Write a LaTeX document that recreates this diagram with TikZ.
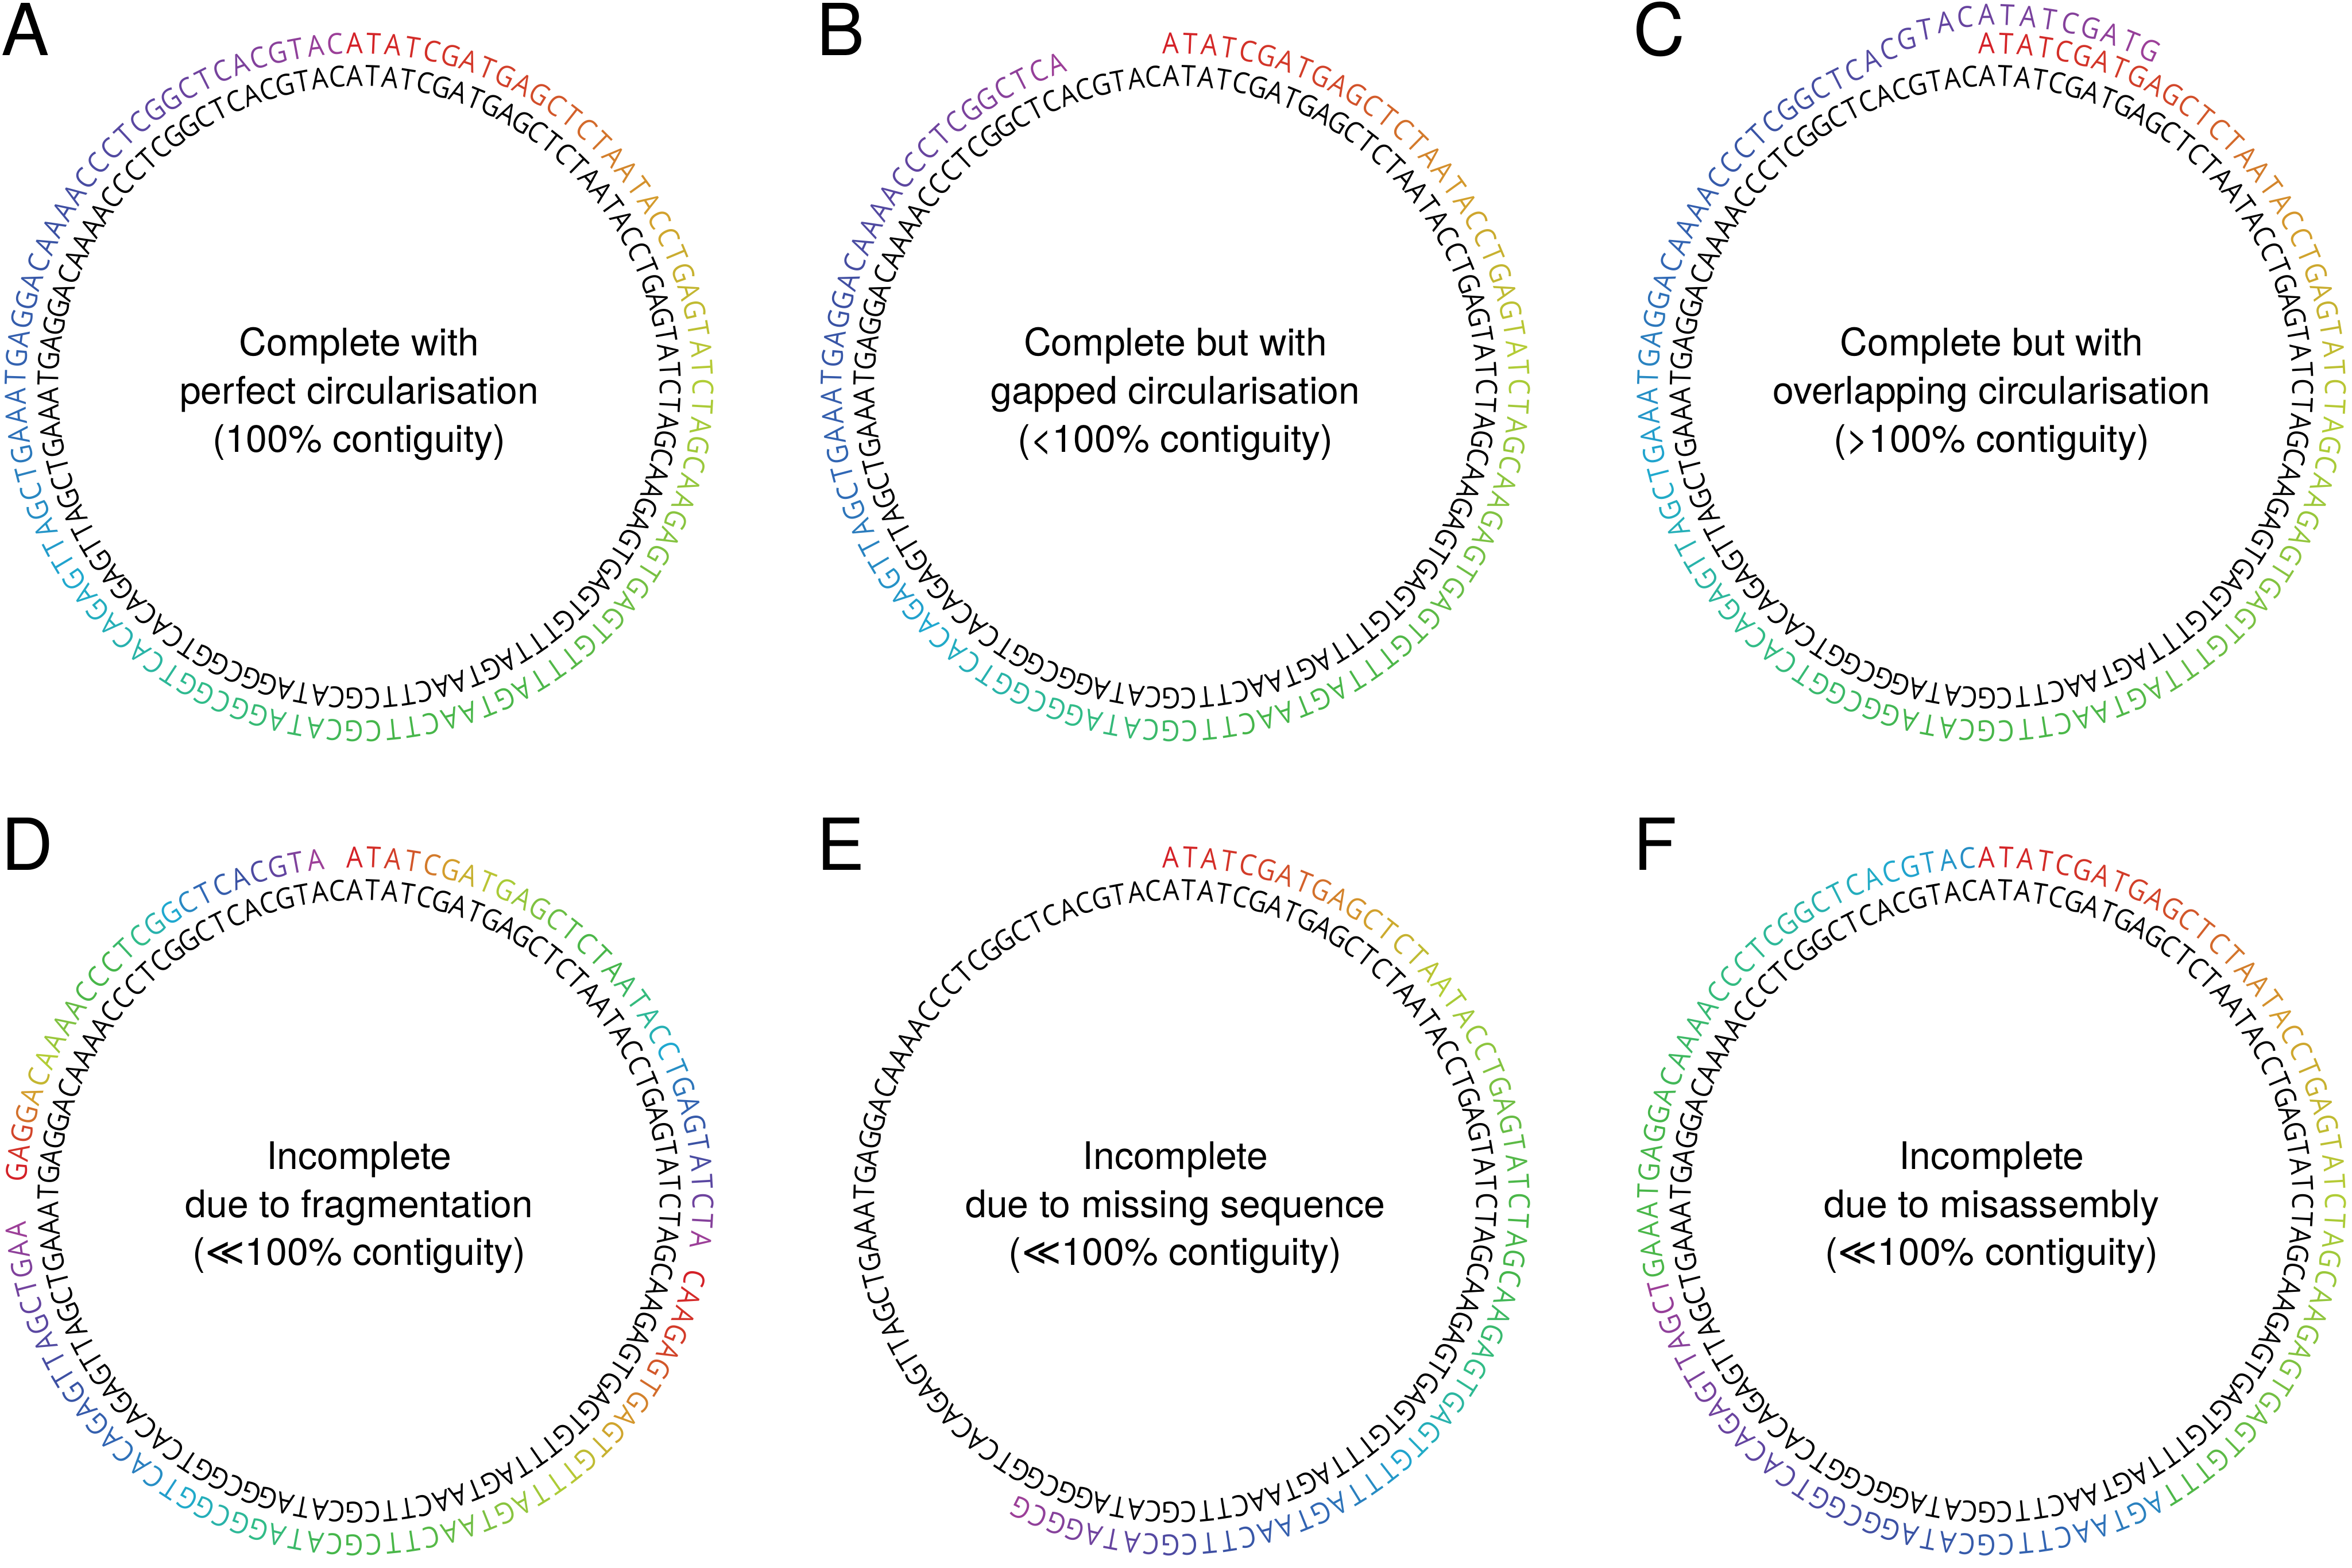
\documentclass[tikz,border=0pt]{standalone}
\usepackage{fontspec}
\setmainfont{TeX Gyre Heros}
\newfontfamily\seqfont[FakeStretch=0.9]{Open Sans}
\newfontfamily\symfont{DejaVu Sans}
\makeatletter
\newcount\sqcnt
\def\defseq#1{\global\sqcnt=0 \defseq@#1\relax}
\def\defseq@#1{\ifx#1\relax\else\expandafter\xdef\csname sq@\the\sqcnt\endcsname{#1}\global\advance\sqcnt by 1 \expandafter\defseq@\fi}
\newcommand\sqch[1]{\csname sq@#1\endcsname}
\makeatother
\defseq{ATATCGATGAGCTCTAATACCTGAGTATCTAGCAAGAGTGAGTGTTTAGTAACTTCGCATAGGCGGTCACAGAGTTAGCTGAAATGAGGACAAAACCCTCGGCTCACGTAC}
\definecolor{cc0}{HTML}{D42027}
\definecolor{cc1}{HTML}{D2452A}
\definecolor{cc2}{HTML}{D49E2C}
\definecolor{cc3}{HTML}{B3CD35}
\definecolor{cc4}{HTML}{80C241}
\definecolor{cc5}{HTML}{4CB749}
\definecolor{cc6}{HTML}{45B64A}
\definecolor{cc7}{HTML}{30BC8A}
\definecolor{cc8}{HTML}{1FA8D0}
\definecolor{cc9}{HTML}{3068B5}
\definecolor{cc10}{HTML}{3A51A3}
\definecolor{cc11}{HTML}{6244A0}
\definecolor{cc12}{HTML}{9C3F98}
\def\thzero{90.8}
\def\dth{3.243243}
\def\rin{10.03}
\def\rout{11.12}
\newcommand\innerring[3]{%
  \foreach \i in {0,...,110}{%
    \pgfmathsetmacro\ang{\thzero-\i*\dth}%
    \node[seqch, rotate=\ang-90] (#1in\i) at ({#2+\rin*cos(\ang)},{#3+\rin*sin(\ang)}) {\sqch{\i}};
  }}
\newcommand\contig[8]{%
  \pgfmathtruncatemacro\kmax{#5-1}%
  \foreach \k in {0,...,\kmax}{%
    \pgfmathtruncatemacro\ii{mod(#4+\k,111)}%
    \pgfmathsetmacro\ang{\thzero-(#4+\k)*\dth}%
    \pgfmathsetmacro\tv{(#6+\k)/#7}%
    \pgfmathtruncatemacro\sidx{min(floor(\tv*12),11)}%
    \pgfmathtruncatemacro\snx{\sidx+1}%
    \pgfmathsetmacro\pp{max(0,min(100,100*(1-(\tv*12-\sidx))))}%
    \pgfmathsetmacro\uu{max(0,min(1,(#4+\k-103)/8))}%
    \pgfmathsetmacro\rr{\rout+#8*(3*\uu*\uu-2*\uu*\uu*\uu)}%
    \colorlet{curc}{cc\sidx!\pp!cc\snx}%
    \node[seqch, text=curc, rotate=\ang-90] (#1\k) at ({#2+\rr*cos(\ang)},{#3+\rr*sin(\ang)}) {\sqch{\ii}};
  }}
\begin{document}
\begin{tikzpicture}[x=1cm,y=1cm,
  seqch/.style={font=\seqfont\fontsize{27.5}{30}\selectfont, anchor=base, inner sep=0pt, outer sep=0pt},
  lbl/.style={font=\fontsize{36}{43}\selectfont, anchor=base, inner sep=0pt},
  plet/.style={font=\fontsize{68}{80}\selectfont, anchor=base west, inner sep=0pt}]
\fill[white] (0,0) rectangle (78.38,-52.25);
\useasboundingbox (0,0) rectangle (78.38,-52.25);
% panel letters
\node[plet] (pA) at (0.05,-1.84) {A};
\node[plet] (pB) at (27.22,-1.84) {B};
\node[plet] (pC) at (54.43,-1.84) {C};
\node[plet] (pD) at (0.05,-29.0) {D};
\node[plet] (pE) at (27.22,-29.0) {E};
\node[plet] (pF) at (54.43,-29.0) {F};
% A
\innerring{A}{11.97}{-12.90}
\contig{Ao}{11.97}{-12.90}{0}{111}{0}{110}{0}
\node[lbl] (Al1) at (11.97,-11.86) {Complete with};
\node[lbl] (Al2) at (11.97,-13.46) {perfect circularisation};
\node[lbl] (Al3) at (11.97,-15.06) {(100\% contiguity)};
% B
\innerring{B}{39.17}{-12.90}
\contig{Bo}{39.17}{-12.90}{0}{106}{0}{105}{0}
\node[lbl] (Bl1) at (39.17,-11.86) {Complete but with};
\node[lbl] (Bl2) at (39.17,-13.46) {gapped circularisation};
\node[lbl] (Bl3) at (39.17,-15.06) {(<100\% contiguity)};
% C
\innerring{C}{66.37}{-12.90}
\contig{Co}{66.37}{-12.90}{0}{120}{0}{119}{0.95}
\node[lbl] (Cl1) at (66.37,-11.86) {Complete but with};
\node[lbl] (Cl2) at (66.37,-13.46) {overlapping circularisation};
\node[lbl] (Cl3) at (66.37,-15.06) {(>100\% contiguity)};
% D
\innerring{D}{11.97}{-40.03}
\contig{Da}{11.97}{-40.03}{0}{31}{0}{30}{0}
\contig{Db}{11.97}{-40.03}{32}{51}{0}{50}{0}
\contig{Dc}{11.97}{-40.03}{85}{25}{0}{24}{0}
\node[lbl] (Dl1) at (11.97,-38.97) {Incomplete};
\node[lbl] (Dl2) at (11.97,-40.57) {due to fragmentation};
\node[lbl] (Dl3) at (11.97,-42.17) {({\symfont ≪}100\% contiguity)};
% E
\innerring{E}{39.17}{-40.03}
\contig{Eo}{39.17}{-40.03}{0}{65}{0}{64}{0}
\node[lbl] (El1) at (39.17,-38.97) {Incomplete};
\node[lbl] (El2) at (39.17,-40.57) {due to missing sequence};
\node[lbl] (El3) at (39.17,-42.17) {({\symfont ≪}100\% contiguity)};
% F
\innerring{F}{66.37}{-40.03}
\contig{Fa}{66.37}{-40.03}{0}{47}{0}{110}{0}
\contig{Fb}{66.37}{-40.03}{47}{33}{78}{110}{0}
\contig{Fc}{66.37}{-40.03}{80}{31}{47}{110}{0}
\node[lbl] (Fl1) at (66.37,-38.97) {Incomplete};
\node[lbl] (Fl2) at (66.37,-40.57) {due to misassembly};
\node[lbl] (Fl3) at (66.37,-42.17) {({\symfont ≪}100\% contiguity)};
\end{tikzpicture}
\end{document}
